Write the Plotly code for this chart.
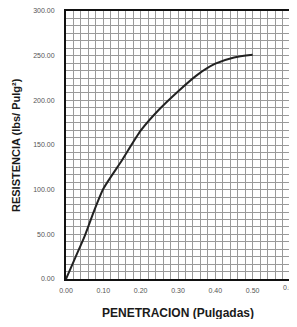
import plotly.graph_objects as go

penetracion = [0.0, 0.025, 0.05, 0.075, 0.1, 0.15, 0.2, 0.25, 0.3, 0.35, 0.4, 0.45, 0.5]
resistencia = [0.0, 24, 48, 76, 101, 133, 166, 190, 210, 228, 241, 248, 251]

x_ticks = [0.0, 0.1, 0.2, 0.3, 0.4, 0.5, 0.6]
y_ticks = [0, 50, 100, 150, 200, 250, 300]

fig = go.Figure()
fig.add_trace(go.Scatter(
    x=penetracion, y=resistencia, mode="lines",
    line=dict(color="#222222", width=2, shape="spline", smoothing=0.6),
    showlegend=False, hoverinfo="skip"))

grid_col = "#9a9a9a"
tick_font = dict(family="Liberation Sans", size=7, color="#555555")

# the axis draws all x tick labels but the last; the end label (0.60) is placed
# at its data position through the x scale so it is not dropped at the edge
fig.update_xaxes(
    range=[0, 0.6], tickvals=x_ticks[:-1], ticktext=[f"{v:.2f}" for v in x_ticks[:-1]],
    showgrid=True, gridcolor=grid_col, gridwidth=1,
    minor=dict(dtick=0.02, showgrid=True, gridcolor=grid_col, gridwidth=1),
    showline=True, linecolor="#111111", linewidth=2, mirror=True,
    zeroline=False, ticks="", ticklabelstandoff=4, automargin=False,
    ticklabeloverflow="allow", tickfont=tick_font)
fig.update_yaxes(
    range=[0, 300], tickvals=y_ticks, ticktext=[f"{v:.2f}" for v in y_ticks],
    showgrid=True, gridcolor=grid_col, gridwidth=1,
    minor=dict(dtick=25/3, showgrid=True, gridcolor=grid_col, gridwidth=1),
    showline=True, linecolor="#111111", linewidth=2, mirror=True,
    zeroline=False, ticks="", ticklabelstandoff=8, automargin=False,
    ticklabeloverflow="allow", tickfont=tick_font)

fig.add_annotation(text=f"{x_ticks[-1]:.2f}", xref="x", yref="paper",
                   x=x_ticks[-1], y=0, yanchor="top", yshift=-4, showarrow=False,
                   borderpad=0, font=tick_font)

fig.add_annotation(text="<b>PENETRACION (Pulgadas)</b>", xref="paper", yref="paper",
                   x=0.5, y=-0.125, yanchor="middle", showarrow=False,
                   font=dict(family="Liberation Sans", size=12, color="#1a1a1a"))
fig.add_annotation(text="<b>RESISTENCIA (lbs/ Pulg²)</b>", xref="paper", yref="paper",
                   x=-0.223, y=0.5, xanchor="center", yanchor="middle", textangle=-90,
                   showarrow=False,
                   font=dict(family="Liberation Sans", size=11, color="#1a1a1a"))

fig.update_layout(
    width=297, height=311,
    margin=dict(l=58, r=15, t=3, b=40),
    paper_bgcolor="white", plot_bgcolor="white")

fig.write_html("out.html")
